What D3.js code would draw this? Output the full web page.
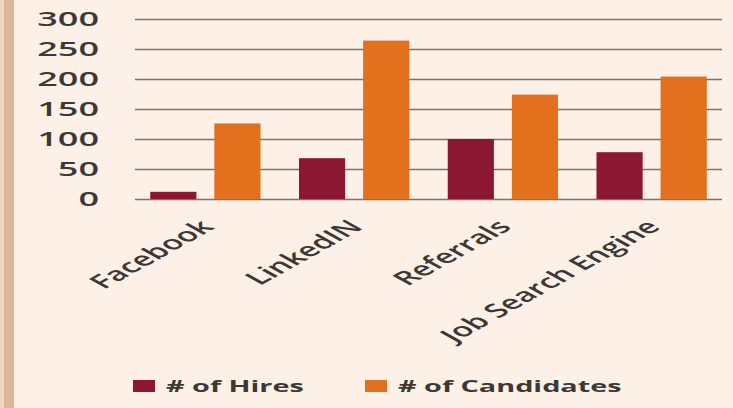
<!DOCTYPE html>
<html><head><meta charset="utf-8">
<script src="https://cdn.jsdelivr.net/npm/d3@7"></script>
<style>
html,body{margin:0;padding:0;background:#fdf1e7;}
svg{display:block;}
</style></head>
<body>
<svg id="chart" width="733" height="408"></svg>
<script>
const categories = ["Facebook", "LinkedIN", "Referrals", "Job Search Engine"];
const seriesNames = ["# of Hires", "# of Candidates"];
const hires = [12, 68, 100, 78];
const candidates = [126, 264, 174, 204];
const yTicks = [0, 50, 100, 150, 200, 250, 300];
const colors = ["#8c1733", "#e2701c"];

const SX = 1.8; // horizontal stretch of the original picture
const svg = d3.select("#chart");
svg.append("rect").attr("width", 733).attr("height", 408).attr("fill", "#fdf1e7");
// left border stripe
svg.append("rect").attr("x", 0).attr("y", 0).attr("width", 4).attr("height", 408).attr("fill", "#f0d6c0");
svg.append("rect").attr("x", 4).attr("y", 0).attr("width", 10).attr("height", 408).attr("fill", "#dcb69a");

const y = d3.scaleLinear().domain([0, 300]).range([199, 19]);
const x0 = d3.scaleBand().domain(categories).range([131, 726]).padding(0);
const x1 = d3.scaleBand().domain(seriesNames).range([0, x0.bandwidth()]).paddingInner(0.28).paddingOuter(0.3);

const data = categories.map((c, i) => ({cat: c, vals: [
  {s: seriesNames[0], v: hires[i]}, {s: seriesNames[1], v: candidates[i]}]}));

// gridlines
const grid = svg.append("g").attr("transform", "translate(135,0)")
  .call(d3.axisLeft(y).tickValues(yTicks).tickSize(-587).tickFormat(""));
grid.select(".domain").remove();
grid.selectAll("line").attr("stroke", "#7a7470").attr("stroke-width", 1.6);

// y tick labels
const yl = svg.append("g").selectAll("g").data(yTicks).join("g")
  .attr("transform", d => `translate(99,${y(d)})`);
yl.append("text").attr("transform", `scale(${SX},1)`)
  .attr("text-anchor", "end").attr("dy", "0.36em")
  .attr("font-family", "'Open Sans', sans-serif").attr("font-weight", 600)
  .attr("font-size", 20).attr("fill", "#3b3835").text(d => d);

// bars
const groups = svg.append("g").selectAll("g").data(data).join("g")
  .attr("transform", d => `translate(${x0(d.cat)},0)`);
groups.selectAll("rect").data(d => d.vals).join("rect")
  .attr("x", d => x1(d.s)).attr("width", x1.bandwidth())
  .attr("y", d => y(d.v)).attr("height", d => y(0) - y(d.v))
  .attr("fill", (d, i) => colors[i]);

// x labels
const xl = svg.append("g").selectAll("g").data(categories).join("g")
  .attr("transform", d => `translate(${x0(d) + x0.bandwidth() / 2 + 10},228)`);
xl.append("text").attr("transform", `scale(${SX},1) rotate(-45)`)
  .attr("text-anchor", "end")
  .attr("font-family", "'Open Sans', sans-serif").attr("font-weight", 600)
  .attr("font-size", 19).attr("fill", "#3b3835").text(d => d);

// legend
const legX = [133, 365];
const leg = svg.append("g").selectAll("g").data(seriesNames).join("g")
  .attr("transform", (d, i) => `translate(${legX[i]},386)`);
leg.append("rect").attr("x", 0).attr("y", -6).attr("width", 22).attr("height", 12)
  .attr("fill", (d, i) => colors[i]);
leg.append("text").attr("transform", `translate(33,0) scale(${SX},1)`)
  .attr("dy", "0.36em")
  .attr("font-family", "'Open Sans', sans-serif").attr("font-weight", 700)
  .attr("font-size", 16).attr("fill", "#3b3835").text(d => d);
</script>
</body></html>
